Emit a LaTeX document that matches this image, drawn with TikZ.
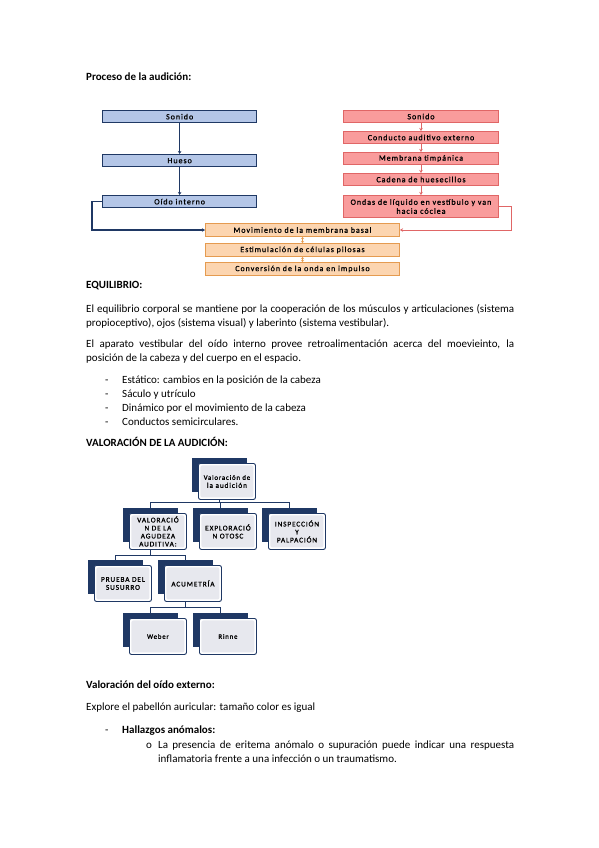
\documentclass[tikz,border=0pt]{standalone}
\usepackage{fontspec}
\setmainfont{Carlito}
\newfontfamily\boxfont[LetterSpace=12, FakeBold=1]{Carlito}
\usetikzlibrary{arrows.meta,positioning,backgrounds}
\definecolor{navy}{HTML}{1F3864}
\definecolor{bluefill}{HTML}{B4C6E7}
\definecolor{redline}{HTML}{E06666}
\definecolor{redfill}{HTML}{F99C9C}
\definecolor{orangeline}{HTML}{E59B50}
\definecolor{orangefill}{HTML}{FCD5B0}
\definecolor{orgfill}{HTML}{E7E8EE}
\tikzset{
  txt/.style={anchor=base west, inner sep=0pt, font=\fontsize{11}{13}\selectfont},
  head/.style={txt, font=\fontsize{11}{13}\selectfont\bfseries},
  flowbox/.style={rectangle, draw=#1, anchor=north west, inner sep=0pt,
    align=center, font=\boxfont\fontsize{8}{9}\selectfont},
  bluebox/.style={flowbox=navy, fill=bluefill, line width=1.3pt,
    minimum width=154pt, minimum height=12pt},
  redbox/.style={flowbox=redline, fill=redfill, line width=1pt,
    minimum width=155pt, minimum height=12pt},
  orangebox/.style={flowbox=orangeline, fill=orangefill, line width=1pt,
    minimum width=194pt, minimum height=13pt},
  flowarrow/.style={-{Stealth[length=3pt,width=3.5pt]}, line width=1.3pt, color=#1},
  flowarrow/.default=navy,
  orgback/.style={rectangle, fill=navy, anchor=north west,
    minimum width=55pt, minimum height=34pt, inner sep=0pt},
  orgfront/.style={rectangle, rounded corners=2pt, draw=navy, line width=0.9pt,
    fill=white, anchor=north west, minimum width=57pt, minimum height=36pt,
    inner sep=1pt, align=center,
    font=\boxfont\fontsize{7.3}{8}\selectfont,
    path picture={\fill[orgfill] ([shift={(2pt,-2pt)}]path picture bounding box.north west)
      rectangle ([shift={(-2pt,2pt)}]path picture bounding box.south east);}},
  orgline/.style={navy, line width=0.8pt},
}
\begin{document}
\begin{tikzpicture}[x=1pt, y=-1pt]
  \useasboundingbox (0,0) rectangle (599,848);
  \begin{scope}[on background layer]
    \fill[white] (0,0) rectangle (599,848);
  \end{scope}

  % Proceso de la audicion
  \node[head] (ttl) at (86,81) {Proceso de la audición:};

  \node[bluebox] (bs) at (102,110) {Sonido};
  \node[bluebox] (bh) at (102,154) {Hueso};
  \node[bluebox] (bo) at (102,195) {Oído interno};

  \node[redbox] (rs) at (343,110) {Sonido};
  \node[redbox] (rc) at (343,131) {Conducto auditivo externo};
  \node[redbox] (rm) at (343,152) {Membrana timpánica};
  \node[redbox] (rh) at (343,173) {Cadena de huesecillos};
  \node[redbox, minimum height=22pt] (ro) at (343,195) {Ondas de líquido en vestíbulo y van\\hacia cóclea};

  \node[orangebox] (om) at (205,223) {Movimiento de la membrana basal};
  \node[orangebox] (oe) at (205,243) {Estimulación de células pilosas};
  \node[orangebox] (oc) at (205,262) {Conversión de la onda en impulso};

  \draw[flowarrow] (bs) -- (bh);
  \draw[flowarrow] (bh) -- (bo);
  \draw[flowarrow] (bo.west) -- ++(-10,0) |- (om.west);

  \foreach \a/\b in {rs/rc, rc/rm, rm/rh, rh/ro} {
    \draw[flowarrow=redline, line width=1pt] (\a) -- (\b);
  }
  \draw[flowarrow=redline, line width=1pt] (ro.east) -- ++(12,0) |- (om.east);

  \foreach \a/\b in {om/oe, oe/oc} {
    \draw[orangeline, line width=1pt, {Stealth[length=2pt,width=3pt]}-{Stealth[length=2pt,width=3pt]}] (\a) -- (\b);
  }

  % Equilibrio
  \node[head] (equi) at (86,288) {EQUILIBRIO:};
  \node[txt] (p1a) at (86,312) {\makebox[428pt][s]{El equilibrio corporal se mantiene por la cooperación de los músculos y articulaciones (sistema}};
  \node[txt] (p1b) at (86,326) {propioceptivo), ojos (sistema visual) y laberinto (sistema vestibular).};
  \node[txt] (p2a) at (86,347) {\makebox[428pt][s]{El aparato vestibular del oído interno provee retroalimentación acerca del moevieinto, la}};
  \node[txt] (p2b) at (86,361) {posición de la cabeza y del cuerpo en el espacio.};
  \foreach \y/\t in {383/{Estático: cambios en la posición de la cabeza},
                     397/{Sáculo y utrículo},
                     411/{Dinámico por el movimiento de la cabeza},
                     425/{Conductos semicirculares.}} {
    \node[txt] (d\y) at (105,\y) {-};
    \node[txt] (b\y) at (122,\y) {\t};
  }

  % Valoracion de la audicion
  \node[head] (valo) at (86,446) {VALORACIÓN DE LA AUDICIÓN:};

  \foreach \n/\x/\y/\t in {vt/192/458/{\fontsize{6.8}{8}\selectfont Valoración de\\la audición},
                           va/123/508/{VALORACIÓ\\N DE LA\\AGUDEZA\\AUDITIVA:},
                           vb/193/508/{EXPLORACIÓ\\N OTOSC},
                           vc/262/508/{INSPECCIÓN\\Y\\PALPACIÓN},
                           pr/88/560/{PRUEBA DEL\\SUSURRO},
                           ac/158/560/{ACUMETRÍA},
                           we/123/613/{\fontsize{6.8}{8}\selectfont Weber},
                           ri/193/613/{\fontsize{6.8}{8}\selectfont Rinne}} {
    \node[orgback] (\n) at (\x,\y) {};
    \node[orgfront] (f\n) at (\x+6,\y+5) {\t};
  }

  \begin{scope}[on background layer]
    \foreach \c in {va,vb,vc} {
      \draw[orgline] (vt.south) -- ++(0,10) -| (\c.north);
    }
    \foreach \c in {pr,ac} {
      \draw[orgline] (va.south) -- ++(0,13) -| (\c.north);
    }
    \foreach \c in {we,ri} {
      \draw[orgline] (ac.south) -- ++(0,13) -| (\c.north);
    }
  \end{scope}

  % Oido externo
  \node[head] (ext) at (86,688) {Valoración del oído externo:};
  \node[txt] (expl) at (86,710) {Explore el pabellón auricular: tamaño color es igual};
  \node[txt] (dh) at (105,733) {-};
  \node[head] (hall) at (122,733) {Hallazgos anómalos:};
  \node[txt] (oa) at (146,748) {o};
  \node[txt] (pres1) at (158,748) {\makebox[356pt][s]{La presencia de eritema anómalo o supuración puede indicar una respuesta}};
  \node[txt] (pres2) at (158,762) {inflamatoria frente a una infección o un traumatismo.};
\end{tikzpicture}
\end{document}
